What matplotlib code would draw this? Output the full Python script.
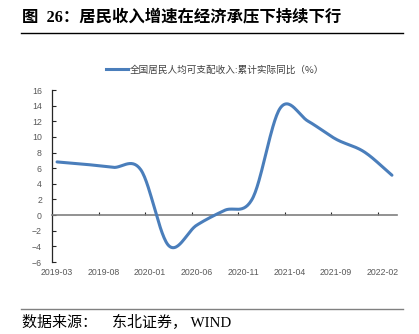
import numpy as np
import matplotlib
matplotlib.use("Agg")
import matplotlib.pyplot as plt
from matplotlib.lines import Line2D

# ---------------- data ----------------
# quarterly cumulative real YoY growth of per-capita disposable income (%)
months = [0, 3, 6, 9, 12, 15, 18, 21, 24, 27, 30, 33, 36]   # months since 2019-03
values = [6.8, 6.5, 6.1, 5.8, -3.9, -1.3, 0.6, 2.1, 13.7, 12.0, 9.7, 8.1, 5.1]
tick_labels = ["2019-03", "2019-08", "2020-01", "2020-06", "2020-11",
               "2021-04", "2021-09", "2022-02"]
tick_months = [0, 5, 10, 15, 20, 25, 30, 35]
series_name = "全国居民人均可支配收入:累计实际同比（%）"
title = "图  26：居民收入增速在经济承压下持续下行"
source = "数据来源：　东北证券， WIND"


def smooth(xs, ys, n=30):
    """Catmull-Rom smoothing (like Excel's smoothed line)."""
    xs = np.asarray(xs, float)
    ys = np.asarray(ys, float)
    X, Y = [], []
    for i in range(len(xs) - 1):
        x0, x1 = xs[i], xs[i + 1]
        y0, y1 = ys[i], ys[i + 1]
        yp = ys[i - 1] if i > 0 else y0
        yn = ys[i + 2] if i + 2 < len(ys) else y1
        m0 = (y1 - yp) / 2 if i > 0 else (y1 - y0)
        m1 = (yn - y0) / 2 if i + 2 < len(ys) else (y1 - y0)
        t = np.linspace(0, 1, n, endpoint=False)
        h00 = 2 * t**3 - 3 * t**2 + 1
        h10 = t**3 - 2 * t**2 + t
        h01 = -2 * t**3 + 3 * t**2
        h11 = t**3 - t**2
        X.extend(x0 + t * (x1 - x0))
        Y.extend(h00 * y0 + h10 * m0 + h01 * y1 + h11 * m1)
    X.append(xs[-1])
    Y.append(ys[-1])
    return np.array(X), np.array(Y)


W, H = 419, 334
fig = plt.figure(figsize=(W / 100, H / 100), dpi=100)
fig.patch.set_facecolor("white")

ax = fig.add_axes([52.4 / W, (H - 262) / H, (396.6 - 52.4) / W, (262 - 90) / H])

sx, sy = smooth(months, values)
line_color = "#4a7ebb"
ax.plot(sx, sy, color=line_color, lw=2.2, solid_capstyle="round", zorder=3)

ax.set_xlim(-0.5, 36.5)
ax.set_ylim(-6, 16)
ax.set_yticks(np.arange(-6, 17, 2))

for s in ["top", "right"]:
    ax.spines[s].set_visible(False)
ax.spines["left"].set_color("#262626")
ax.spines["left"].set_linewidth(0.9)
ax.spines["bottom"].set_position(("data", 0))
ax.spines["bottom"].set_color("#7f7f7f")
ax.spines["bottom"].set_linewidth(1.2)

ax.tick_params(axis="y", direction="in", length=3, width=0.8, color="#262626",
               labelsize=6.3, labelcolor="#595959", pad=7.5)
for lab in ax.get_yticklabels():
    lab.set_fontfamily("Liberation Sans")

ax.set_xticks([m - 0.5 for m in tick_months[1:]])
ax.tick_params(axis="x", direction="in", length=2.5, width=0.8, color="#262626",
               labelbottom=False)

sec = ax.secondary_xaxis(0.0)
sec.spines["bottom"].set_visible(False)
sec.set_xticks(tick_months)
sec.set_xticklabels(tick_labels, fontfamily="Liberation Sans", fontsize=6.3,
                    color="#595959")
sec.tick_params(axis="x", length=0, pad=4)

# legend
handle = Line2D([], [], color=line_color, lw=2.2)
fig.legend([handle], [series_name], loc="center",
           bbox_to_anchor=(215 / W, 1 - 69.7 / H), frameon=False,
           prop={"family": ["Noto Sans CJK SC"], "size": 6.9},
           handlelength=2.3, handletextpad=0.15, labelcolor="#404040")

# title and footer
fig.text(22 / W, 1 - 17 / H, title, ha="left", va="center",
         fontsize=11.8, fontweight="bold",
         family=["Liberation Serif", "Noto Sans CJK SC"], color="black")
fig.add_artist(Line2D([21 / W, 403 / W], [1 - 32.5 / H, 1 - 32.5 / H],
                      color="black", lw=1.0, transform=fig.transFigure))
fig.add_artist(Line2D([21 / W, 403 / W], [1 - 309 / H, 1 - 309 / H],
                      color="#808080", lw=1.0, transform=fig.transFigure))
fig.text(22 / W, 1 - 322 / H, source, ha="left", va="center",
         fontsize=10.8, family=["Liberation Serif", "Noto Sans CJK SC"],
         color="black")

fig.savefig("out.png", dpi=100, facecolor="white")
